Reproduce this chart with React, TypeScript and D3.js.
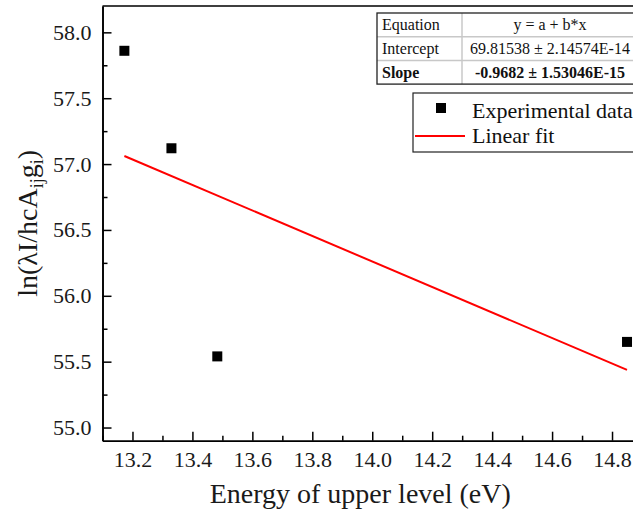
import { useEffect, useRef } from 'react';
import * as d3 from 'd3';

// data
const energies = [13.173, 13.33, 13.483, 14.85];
const lnValues = [57.86, 57.12, 55.54, 55.65];
const fitIntercept = 69.81538;
const fitSlope = -0.9682;

const xMajorTicks = [13.2, 13.4, 13.6, 13.8, 14.0, 14.2, 14.4, 14.6, 14.8];
const xMinorTicks = [13.1, 13.3, 13.5, 13.7, 13.9, 14.1, 14.3, 14.5, 14.7, 14.9];
const yMajorTicks = [55.0, 55.5, 56.0, 56.5, 57.0, 57.5, 58.0];
const yMinorTicks = [55.25, 55.75, 56.25, 56.75, 57.25, 57.75];

const tableLabels = ['Equation', 'Intercept', 'Slope'];
const tableValues = ['y = a + b*x', '69.81538 \u00b1 2.14574E-14', '-0.9682 \u00b1 1.53046E-15'];

const legendLabels = ['Experimental data', 'Linear fit'];

const FONT = "'Liberation Serif', 'Times New Roman', Times, serif";

const App = () => {
  const svgRef = useRef<SVGSVGElement>(null);

  useEffect(() => {
    const svg = d3.select(svgRef.current);
    svg.selectAll('*').remove();

    const left = 102.5;
    const right = 642;
    const top = 6;
    const bottom = 440.7;

    const x = d3.scaleLinear().domain([13.1, 14.9]).range([left, right]);
    const y = d3.scaleLinear().domain([54.9, 58.2]).range([bottom, top]);

    // frame (top + right)
    svg.append('path')
      .attr('d', `M${left},${top}H${right}V${bottom}`)
      .attr('fill', 'none')
      .attr('stroke', '#000')
      .attr('stroke-width', 1.6);

    // x axis
    const gx = svg.append('g').attr('transform', `translate(0,${bottom})`);
    gx.call(
      d3.axisBottom(x).tickValues(xMajorTicks).tickSizeInner(-9).tickSizeOuter(0)
        .tickPadding(10.5).tickFormat(d3.format('.1f'))
    );
    const gxMinor = svg.append('g').attr('transform', `translate(0,${bottom})`);
    gxMinor.call(d3.axisBottom(x).tickValues(xMinorTicks).tickSizeInner(-5).tickSizeOuter(0).tickFormat(() => ''));

    // y axis
    const gy = svg.append('g').attr('transform', `translate(${left},0)`);
    gy.call(
      d3.axisLeft(y).tickValues(yMajorTicks).tickSizeInner(-9).tickSizeOuter(0)
        .tickPadding(11).tickFormat(d3.format('.1f'))
    );
    const gyMinor = svg.append('g').attr('transform', `translate(${left},0)`);
    gyMinor.call(d3.axisLeft(y).tickValues(yMinorTicks).tickSizeInner(-5).tickSizeOuter(0).tickFormat(() => ''));

    [gx, gy].forEach(g => g.attr('font-family', FONT).attr('font-size', 22));
    svg.selectAll('.domain').attr('stroke-width', 1.6);
    svg.selectAll('.tick line').attr('stroke-width', 1.5);
    svg.selectAll('.tick text')
      .style('font-family', FONT)
      .style('font-size', '22px')
      .attr('fill', '#1a1a1a');

    // linear fit line
    const xMin = d3.min(energies)!;
    const xMax = d3.max(energies)!;
    const fitPts: [number, number][] = [
      [xMin, fitIntercept + fitSlope * xMin],
      [xMax, fitIntercept + fitSlope * xMax],
    ];
    svg.append('path')
      .attr('d', d3.line<[number, number]>().x(d => x(d[0])).y(d => y(d[1]))(fitPts)!)
      .attr('stroke', '#ff0000')
      .attr('stroke-width', 2)
      .attr('fill', 'none');

    // scatter points
    const s = 10;
    svg.append('g')
      .selectAll('rect')
      .data(energies.map((e, i) => [e, lnValues[i]]))
      .enter()
      .append('rect')
      .attr('x', d => x(d[0]) - s / 2)
      .attr('y', d => y(d[1]) - s / 2)
      .attr('width', s)
      .attr('height', s)
      .attr('fill', '#000');

    // axis titles
    svg.append('text')
      .attr('x', (left + 642) / 2 - 12)
      .attr('y', 503)
      .attr('text-anchor', 'middle')
      .style('font-family', FONT)
      .style('font-size', '28px')
      .attr('fill', '#1a1a1a')
      .text('Energy of upper level (eV)');

    const yt = svg.append('text')
      .attr('transform', `translate(37,${(top + bottom) / 2}) rotate(-90)`)
      .attr('text-anchor', 'middle')
      .style('font-family', FONT)
      .style('font-size', '28px')
      .attr('fill', '#1a1a1a');
    yt.append('tspan').text('ln(\u03bbI/hcA');
    yt.append('tspan').style('font-size', '18px').attr('dy', 6).text('ij');
    yt.append('tspan').attr('dy', -6).text('g');
    yt.append('tspan').style('font-size', '18px').attr('dy', 6).text('i');
    yt.append('tspan').attr('dy', -6).text(')');

    // fit table
    const tx = 377, ty = 13, tw = 261, rowH = 23.7, colX = 462;
    const tab = svg.append('g');
    tab.append('rect')
      .attr('x', tx).attr('y', ty).attr('width', tw).attr('height', rowH * 3)
      .attr('fill', '#fff');
    [1, 2].forEach(i => {
      tab.append('line')
        .attr('x1', tx).attr('x2', tx + tw)
        .attr('y1', ty + rowH * i).attr('y2', ty + rowH * i)
        .attr('stroke', '#c8c8c8').attr('stroke-width', 1.5);
    });
    tab.append('line')
      .attr('x1', colX).attr('x2', colX).attr('y1', ty).attr('y2', ty + rowH * 3)
      .attr('stroke', '#c8c8c8').attr('stroke-width', 1.5);
    tab.append('rect')
      .attr('x', tx).attr('y', ty).attr('width', tw).attr('height', rowH * 3)
      .attr('fill', 'none').attr('stroke', '#222').attr('stroke-width', 1.3);
    tableLabels.forEach((lab, i) => {
      const by = ty + rowH * i + rowH / 2 + 5.5;
      tab.append('text')
        .attr('x', tx + 5).attr('y', by)
        .style('font-family', FONT).style('font-size', '16px')
        .attr('font-weight', i === 2 ? 'bold' : 'normal')
        .attr('fill', '#111')
        .text(lab);
      tab.append('text')
        .attr('x', 550).attr('y', by)
        .attr('text-anchor', 'middle')
        .style('font-family', FONT).style('font-size', '16px')
        .attr('font-weight', i === 2 ? 'bold' : 'normal')
        .attr('fill', '#111')
        .text(tableValues[i]);
    });

    // legend
    const lg = svg.append('g');
    lg.append('rect')
      .attr('x', 413).attr('y', 93).attr('width', 240).attr('height', 59)
      .attr('fill', '#fff').attr('stroke', '#222').attr('stroke-width', 1.2);
    lg.append('rect')
      .attr('x', 441 - s / 2).attr('y', 108 - s / 2).attr('width', s).attr('height', s)
      .attr('fill', '#000');
    lg.append('line')
      .attr('x1', 415).attr('x2', 465).attr('y1', 136).attr('y2', 136)
      .attr('stroke', '#ff0000').attr('stroke-width', 2);
    legendLabels.forEach((lab, i) => {
      lg.append('text')
        .attr('x', 472).attr('y', 117.5 + i * 25.5)
        .style('font-family', FONT).style('font-size', '22px')
        .attr('fill', '#111')
        .text(lab);
    });
  }, []);

  return (
    <div style={{ position: 'absolute', left: 0, top: 0 }}>
      <svg ref={svgRef} width={633} height={512} style={{ display: 'block', background: '#fff' }}></svg>
    </div>
  );
};

export default App;
